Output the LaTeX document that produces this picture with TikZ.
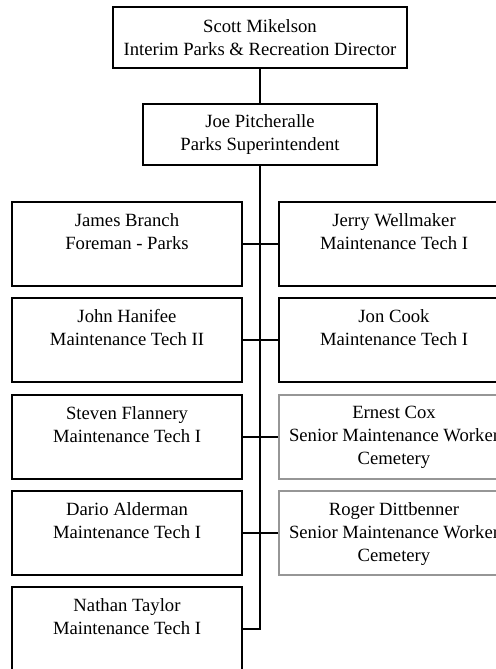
\documentclass[tikz,border=0pt]{standalone}
\usepackage{fontspec}
\setmainfont{Liberation Serif}
\definecolor{boxgrey}{RGB}{150,150,150}
\begin{document}
\begin{tikzpicture}[x=0.75pt,y=-0.75pt,
  txt/.style={font=\fontsize{14}{17.3}\selectfont},
  box/.style={draw=black, line width=1pt, minimum width=172.5pt, minimum height=63pt, inner sep=0pt},
  greybox/.style={box, draw=boxgrey},
  topbox/.style={draw=black, line width=1pt, align=center, inner sep=0pt, minimum height=45.75pt, txt},
  lbl/.style={anchor=north, align=center, inner sep=0pt, txt},
  conn/.style={line width=1pt}]
\useasboundingbox (0,0) rectangle (496,669);
\clip (0,0) rectangle (496,669);
% top
\node[topbox, minimum width=220.5pt] (scott) at (260,37.5) {Scott Mikelson\\Interim Parks \& Recreation Director};
\node[topbox, minimum width=175.5pt] (joe) at (260,134.5) {Joe Pitcheralle\\Parks Superintendent};
% left column
\node[box] (james) at (127,244) {};
\node[box] (john) at (127,340) {};
\node[box] (steven) at (127,437) {};
\node[box] (dario) at (127,533) {};
\node[box] (nathan) at (127,629) {};
% right column
\node[box] (jerry) at (394,244) {};
\node[box] (jon) at (394,340) {};
\node[greybox] (ernest) at (394,437) {};
\node[greybox] (roger) at (394,533) {};
% labels
\node[lbl] (tjames) at (127,213) {James Branch\\Foreman - Parks};
\node[lbl] (tjohn) at (127,309) {John Hanifee\\Maintenance Tech II};
\node[lbl] (tsteven) at (127,406) {Steven Flannery\\Maintenance Tech I};
\node[lbl] (tdario) at (127,502) {Dario Alderman\\Maintenance Tech I};
\node[lbl] (tnathan) at (127,598) {Nathan Taylor\\Maintenance Tech I};
\node[lbl] (tjerry) at (394,213) {Jerry Wellmaker\\Maintenance Tech I};
\node[lbl] (tjon) at (394,309) {Jon Cook\\Maintenance Tech I};
\node[lbl] (ternest) at (394,406) {Ernest Cox\\Senior Maintenance Worker\\Cemetery};
\node[lbl] (troger) at (394,502) {Roger Dittbenner\\Senior Maintenance Worker\\Cemetery};
% connectors
\draw[conn] (scott.south) -- (joe.north);
\draw[conn] (joe.south) |- (nathan.east);
\draw[conn] (james.east) -- (jerry.west);
\draw[conn] (john.east) -- (jon.west);
\draw[conn] (steven.east) -- (ernest.west);
\draw[conn] (dario.east) -- (roger.west);
\end{tikzpicture}
\end{document}
